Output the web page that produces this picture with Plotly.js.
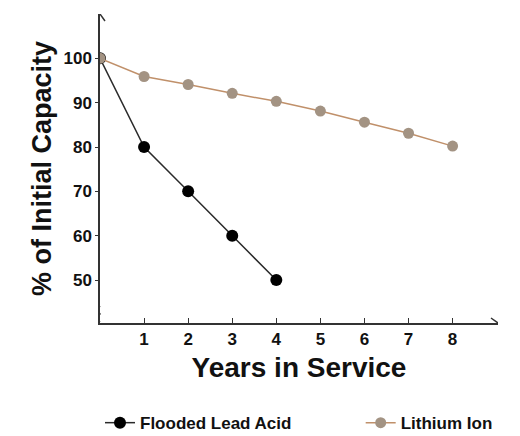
<!DOCTYPE html>
<html><head><meta charset="utf-8">
<script src="https://cdn.plot.ly/plotly-3.0.1.min.js"></script>
<style>html,body{margin:0;padding:0;background:#fff}</style>
</head><body><div id="c" style="width:520px;height:436px"></div>
<script>
const years = [0,1,2,3,4,5,6,7,8];
const leadYears = [0,1,2,3,4];
const leadAcid = [100,80,70,60,50];
const lithiumIon = [100,95.9,94.1,92.1,90.3,88.1,85.6,83.1,80.2];
const xTicks = [1,2,3,4,5,6,7,8];
const yTicks = [50,60,70,80,90,100];

const F = 'Liberation Sans, Arial, sans-serif';
const traces = [
  {x: leadYears, y: leadAcid, name: 'Flooded Lead Acid', mode: 'lines+markers', legend: 'legend',
   line: {color: '#2a2a2a', width: 1.5}, marker: {color: '#000', size: 12}},
  {x: years, y: lithiumIon, name: 'Lithium Ion', mode: 'lines+markers', legend: 'legend2',
   line: {color: '#c0906a', width: 1.5}, marker: {color: '#a39383', size: 11}}
];
const xmax = 9.03, ymin = 40.3, ymax = 110;
const legFont = {size: 17, family: F, weight: 'bold', color: '#111'};
const layout = {
  width: 520, height: 436,
  margin: {l: 100, r: 22, t: 14, b: 113, autoexpand: false},
  paper_bgcolor: '#fff', plot_bgcolor: '#fff',
  font: {family: F, color: '#111', weight: 'bold'},
  showlegend: true,
  legend: {orientation: 'h', x: 0.0, y: -0.324, xanchor: 'left', yanchor: 'middle', font: legFont},
  legend2: {orientation: 'h', x: 0.655, y: -0.324, xanchor: 'left', yanchor: 'middle', font: legFont},
  xaxis: {range: [0, xmax], tickvals: xTicks, ticks: 'inside', ticklen: 5, tickcolor: '#333',
    showline: true, linecolor: '#333', linewidth: 1.5, showgrid: false, zeroline: false,
    tickfont: {size: 17, family: F, weight: 'bold'},
    title: {text: 'Years in Service', font: {size: 28, family: F, weight: 'bold'}, standoff: 9}},
  yaxis: {range: [ymin, ymax], tickvals: yTicks, ticks: 'outside', ticklen: 3, tickcolor: '#333',
    showline: true, linecolor: '#333', linewidth: 1.5, showgrid: false, zeroline: false,
    tickfont: {size: 17, family: F, weight: 'bold'},
    title: {text: '% of Initial Capacity', font: {size: 27, family: F, weight: 'bold'}, standoff: 4}},
  shapes: [
    {type: 'path', xref: 'x', yref: 'y', xsizemode: 'pixel', ysizemode: 'pixel',
     xanchor: xmax, yanchor: ymin, path: 'M-7,5 L0,0 L-7,-5', line: {color: '#333', width: 1.5}},
    {type: 'path', xref: 'x', yref: 'y', xsizemode: 'pixel', ysizemode: 'pixel',
     xanchor: 0, yanchor: ymax, path: 'M-5,-7 L0,0 L5,-7', line: {color: '#333', width: 1.5}},
    {type: 'path', xref: 'x', yref: 'y', xsizemode: 'pixel', ysizemode: 'pixel',
     xanchor: 0, yanchor: ymin, path: 'M0,17 L-3,13 L0,9 L-4,5 L0,1', line: {color: '#333', width: 1.5},
     fillcolor: 'rgba(0,0,0,0)'}
  ]
};
Plotly.newPlot('c', traces, layout, {displayModeBar: false});
</script></body></html>
